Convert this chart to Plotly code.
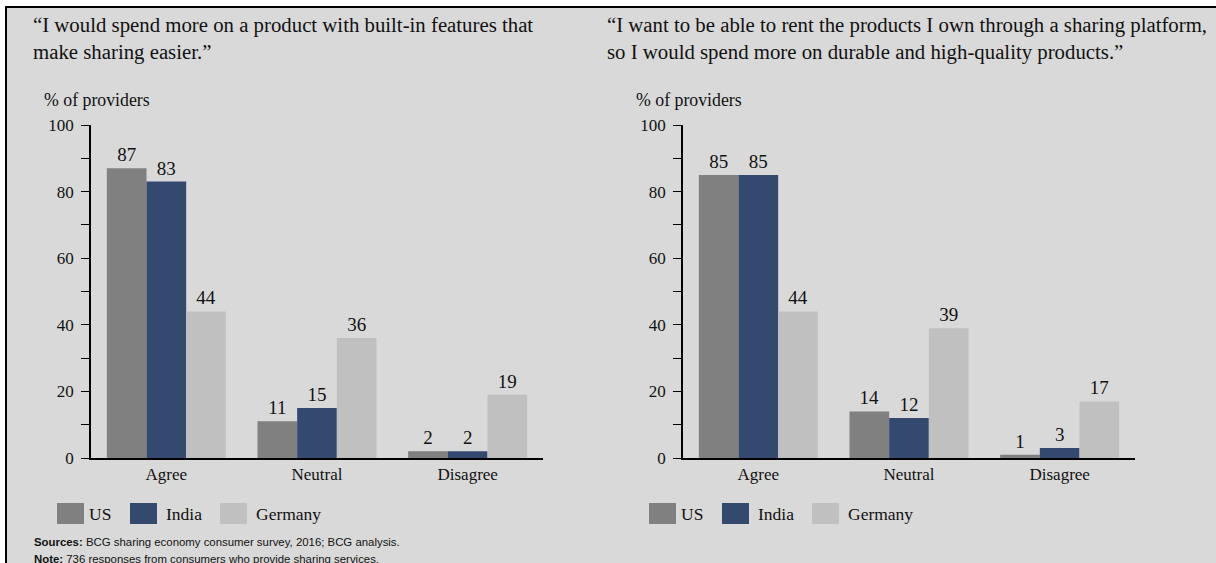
import plotly.graph_objects as go

W, H = 1216, 563

categories = ["Agree", "Neutral", "Disagree"]
series_names = ["US", "India", "Germany"]
series_colors = ["#808080", "#34496e", "#c0c0c0"]

left_values = {
    "US": [87, 11, 2],
    "India": [83, 15, 2],
    "Germany": [44, 36, 19],
}
right_values = {
    "US": [85, 14, 1],
    "India": [85, 12, 3],
    "Germany": [44, 39, 17],
}

left_title = "“I would spend more on a product with built-in features that<br>make sharing easier.”"
right_title = ("“I want to be able to rent the products I own through a sharing platform,<br>"
               "so I would spend more on durable and high-quality products.”")
y_label = "% of providers"
y_ticks = [0, 20, 40, 60, 80, 100]
sources_text = "<b>Sources:</b> BCG sharing economy consumer survey, 2016; BCG analysis."
note_text = "<b>Note:</b> 736 responses from consumers who provide sharing services."

SERIF = "Liberation Serif"
SANS = "Liberation Sans"

def px(x):
    return x / W

def py(y):
    return 1 - y / H

fig = go.Figure()

for vals, xa, ya in [(left_values, "x", "y"), (right_values, "x2", "y2")]:
    for name, color in zip(series_names, series_colors):
        fig.add_trace(go.Bar(
            x=categories, y=vals[name], name=name,
            marker=dict(color=color, line=dict(width=0)),
            text=[str(v) for v in vals[name]],
            textposition="outside",
            textfont=dict(family=SERIF, size=19, color="#111111"),
            cliponaxis=False,
            xaxis=xa, yaxis=ya, showlegend=False,
            hoverinfo="skip",
        ))

ydom = [py(458), py(125)]
xaxis_common = dict(
    showline=True, linecolor="black", linewidth=1.5,
    ticks="", showgrid=False, zeroline=False, automargin=False,
    tickfont=dict(family=SERIF, size=17, color="#111111"),
    range=[-0.5, 2.5], fixedrange=True,
)
yaxis_common = dict(
    range=[0, 100], tickvals=y_ticks, automargin=False, fixedrange=True,
    showline=True, linecolor="black", linewidth=1.5,
    ticks="outside", ticklen=8, tickcolor="black", tickwidth=1,
    minor=dict(dtick=10, ticks="outside", ticklen=8, tickcolor="black", tickwidth=1, showgrid=False),
    showgrid=False, zeroline=False,
    tickfont=dict(family=SERIF, size=17, color="#111111"),
    ticklabelstandoff=4,
    domain=ydom,
)

fig.update_layout(
    width=W, height=H, autosize=False,
    margin=dict(l=0, r=0, t=0, b=0, pad=0),
    paper_bgcolor="white",
    plot_bgcolor="rgba(0,0,0,0)",
    barmode="group", bargap=0.21, bargroupgap=0,
    xaxis=dict(domain=[px(91), px(543)], anchor="y", **xaxis_common),
    yaxis=dict(anchor="x", **yaxis_common),
    xaxis2=dict(domain=[px(683), px(1135)], anchor="y2", **xaxis_common),
    yaxis2=dict(anchor="x2", **yaxis_common),
    showlegend=False,
)

shapes = [dict(
    type="rect", xref="paper", yref="paper", layer="below",
    x0=px(6), x1=1.02, y0=-0.02, y1=py(7),
    fillcolor="#d9d9d9", line=dict(color="black", width=2),
)]

annotations = []
for off, title, tx in [(0, left_title, 31), (592, right_title, 605)]:
    annotations.append(dict(
        xref="paper", yref="paper", x=px(tx), y=py(11),
        xanchor="left", yanchor="top", align="left", showarrow=False,
        text=title, font=dict(family=SERIF, size=20.8, color="#111111"),
    ))
    annotations.append(dict(
        xref="paper", yref="paper", x=px(42 + off), y=py(100),
        xanchor="left", yanchor="middle", showarrow=False,
        text=y_label, font=dict(family=SERIF, size=17.8, color="#111111"),
    ))
    sq_x = [57, 130, 220]
    txt_x = [87, 164, 254]
    for name, color, sx, tx2 in zip(series_names, series_colors, sq_x, txt_x):
        shapes.append(dict(
            type="rect", xref="paper", yref="paper",
            x0=px(sx + off), x1=px(sx + off + 27), y0=py(524), y1=py(503),
            fillcolor=color, line=dict(width=0),
        ))
        annotations.append(dict(
            xref="paper", yref="paper", x=px(tx2 + off), y=py(514),
            xanchor="left", yanchor="middle", showarrow=False,
            text=name, font=dict(family=SERIF, size=17.5, color="#111111"),
        ))

annotations.append(dict(
    xref="paper", yref="paper", x=px(32), y=py(542),
    xanchor="left", yanchor="middle", showarrow=False,
    text=sources_text, font=dict(family=SANS, size=11.4, color="#111111"),
))
annotations.append(dict(
    xref="paper", yref="paper", x=px(32), y=py(559),
    xanchor="left", yanchor="middle", showarrow=False,
    text=note_text, font=dict(family=SANS, size=11.4, color="#111111"),
))

fig.update_layout(shapes=shapes, annotations=annotations)
fig.write_html("out.html", config={"displayModeBar": False})

with open("out.html", "r", encoding="utf-8") as f:
    html = f.read()
html = html.replace(
    "<head>",
    "<head><style>html,body{margin:0;padding:0;overflow:hidden;}</style>",
    1,
)
with open("out.html", "w", encoding="utf-8") as f:
    f.write(html)
